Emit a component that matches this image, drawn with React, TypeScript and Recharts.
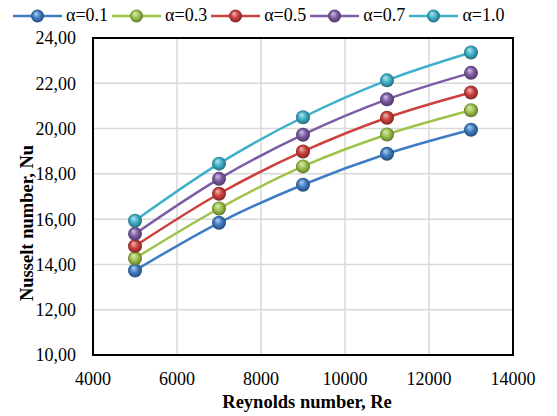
import React from 'react';
import { CartesianGrid, Legend, Line, LineChart, ReferenceArea, XAxis, YAxis } from 'recharts';

// Reynolds numbers on the x axis and Nusselt numbers per alpha
const reynolds = [5000, 7000, 9000, 11000, 13000];
const nuAlpha01 = [13.73, 15.84, 17.52, 18.89, 19.95];
const nuAlpha03 = [14.27, 16.47, 18.33, 19.74, 20.81];
const nuAlpha05 = [14.81, 17.12, 18.99, 20.48, 21.59];
const nuAlpha07 = [15.35, 17.78, 19.73, 21.29, 22.46];
const nuAlpha10 = [15.93, 18.45, 20.5, 22.13, 23.36];

const xTicks = [4000, 6000, 8000, 10000, 12000, 14000];
const yTicks = [10, 12, 14, 16, 18, 20, 22, 24];

const SERIES = [
  { key: 'a01', label: 'α=0.1', color: '#3E7CC4', values: nuAlpha01 },
  { key: 'a03', label: 'α=0.3', color: '#9DC34B', values: nuAlpha03 },
  { key: 'a05', label: 'α=0.5', color: '#CC413D', values: nuAlpha05 },
  { key: 'a07', label: 'α=0.7', color: '#7D5BA6', values: nuAlpha07 },
  { key: 'a10', label: 'α=1.0', color: '#3FB0CA', values: nuAlpha10 },
];

const FONT = '"Liberation Serif", "Times New Roman", serif';

const rows = reynolds.map((re, i) => {
  const row: Record<string, number> = { re };
  for (const s of SERIES) row[s.key] = s.values[i];
  return row;
});

function mix(hex: string, target: number, amt: number): string {
  const n = parseInt(hex.slice(1), 16);
  const ch = [(n >> 16) & 255, (n >> 8) & 255, n & 255].map((c) =>
    Math.round(c + (target - c) * amt),
  );
  return `rgb(${ch[0]}, ${ch[1]}, ${ch[2]})`;
}

/** Glossy ball marker, like Excel's 3D bubble style. */
function Sphere({ cx, cy, r, color, id }: { cx: number; cy: number; r: number; color: string; id: string }) {
  return (
    <g>
      <defs>
        <radialGradient id={id} cx="50%" cy="50%" r="55%" fx="38%" fy="30%">
          <stop offset="0%" stopColor={mix(color, 255, 0.65)} />
          <stop offset="50%" stopColor={color} />
          <stop offset="100%" stopColor={mix(color, 0, 0.45)} />
        </radialGradient>
      </defs>
      <circle cx={cx} cy={cy} r={r} fill={`url(#${id})`} />
    </g>
  );
}

const fmtComma = (v: number) => v.toFixed(2).replace('.', ',');

function renderLegend() {
  return (
    <div style={{ display: 'flex', alignItems: 'center', fontFamily: FONT, fontSize: 18, color: '#000' }}>
      {SERIES.map((s) => (
        <div key={s.key} style={{ display: 'flex', alignItems: 'center', marginRight: 4 }}>
          <svg width={49} height={16}>
            <line x1={0} y1={8} x2={49} y2={8} stroke={s.color} strokeWidth={2.5} />
            <Sphere cx={24.5} cy={8} r={6.5} color={s.color} id={`lg-${s.key}`} />
          </svg>
          <span style={{ marginLeft: 4 }}>{s.label}</span>
        </div>
      ))}
    </div>
  );
}

export default function App() {
  return (
    <div style={{ position: 'fixed', left: 0, top: 0, width: 557, height: 416, background: '#fff' }}>
      <LineChart width={557} height={416} data={rows} margin={{ top: 38, right: 44, left: 0, bottom: 0 }}>
        <CartesianGrid stroke="#D9D9D9" strokeWidth={1.5} />
        <XAxis
          dataKey="re"
          type="number"
          domain={[4000, 14000]}
          ticks={xTicks}
          height={61}
          tickLine={false}
          axisLine={false}
          tickSize={0}
          tickMargin={17}
          tick={{ fontFamily: FONT, fontSize: 18, fill: '#000' }}
          label={{
            content: () => (
              <text x={307} y={408} textAnchor="middle" fontFamily={FONT} fontSize={18.5} fontWeight="bold" fill="#000">
                Reynolds number, Re
              </text>
            ),
          }}
        />
        <YAxis
          type="number"
          domain={[10, 24]}
          ticks={yTicks}
          width={93}
          tickLine={false}
          axisLine={false}
          tickSize={0}
          tickMargin={17}
          tickFormatter={fmtComma}
          tick={{ fontFamily: FONT, fontSize: 18, fill: '#000' }}
          label={{
            content: () => (
              <text
                transform="translate(33, 223) rotate(-90)"
                textAnchor="middle"
                fontFamily={FONT}
                fontSize={18.5}
                fontWeight="bold"
                fill="#000"
              >
                Nusselt number, Nu
              </text>
            ),
          }}
        />
        <ReferenceArea x1={4000} x2={14000} y1={10} y2={24} fill="none" stroke="#000" strokeWidth={2} />
        <Legend
          layout="horizontal"
          verticalAlign="middle"
          align="center"
          content={renderLegend}
          wrapperStyle={{ top: 5, left: 13, width: 'auto' }}
        />
        {SERIES.map((s) => (
          <Line
            key={s.key}
            type="monotone"
            dataKey={s.key}
            name={s.label}
            stroke={s.color}
            strokeWidth={2.5}
            dot={(p: any) => (
              <Sphere key={`${s.key}-${p.index}`} cx={p.cx} cy={p.cy} r={7} color={s.color} id={`dot-${s.key}`} />
            )}
            activeDot={false}
            isAnimationActive={false}
          />
        ))}
      </LineChart>
    </div>
  );
}
